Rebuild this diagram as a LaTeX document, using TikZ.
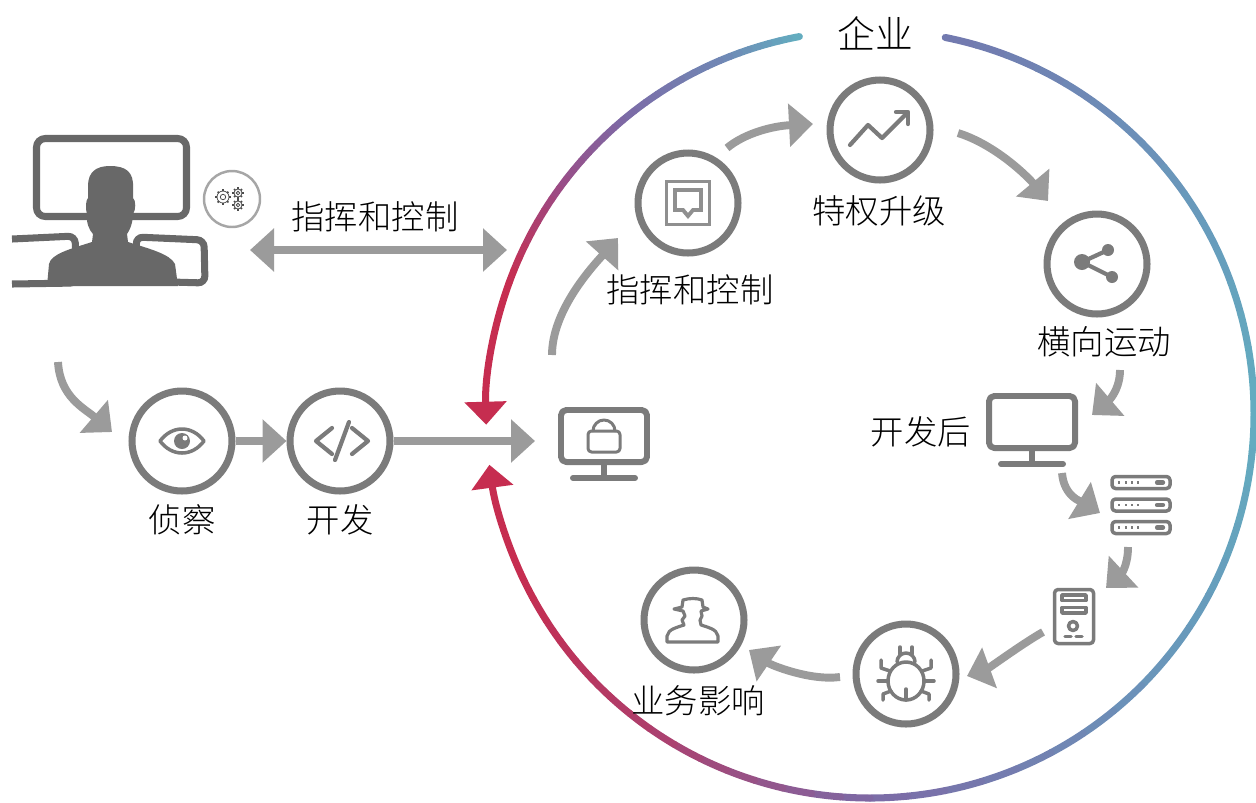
\documentclass[tikz,border=0pt]{standalone}
\usepackage{fontspec}
\IfFontExistsTF{Noto Sans CJK SC Light}
  {\newfontfamily\cjk{Noto Sans CJK SC Light}}
  {\newfontfamily\cjk{Noto Sans CJK SC}}
\usetikzlibrary{arrows.meta}
\definecolor{arrowgrey}{HTML}{9B9B9B}
\definecolor{icongrey}{HTML}{7B7B7B}
\definecolor{mangrey}{HTML}{686868}
\definecolor{ringteal}{HTML}{62AEC0}
\definecolor{ringblue}{HTML}{6A94BA}
\definecolor{ringsky}{HTML}{7088B5}
\definecolor{ringindigo}{HTML}{7378AE}
\definecolor{ringviolet}{HTML}{7C6AA6}
\definecolor{ringplum}{HTML}{9A4C86}
\definecolor{ringrose}{HTML}{AE3E6C}
\definecolor{ringcrim}{HTML}{C62D50}

\tikzset{
  stage/.style={circle, draw=icongrey, line width=4pt, minimum size=2cm, inner sep=0pt},
  device/.style={inner sep=0pt, minimum width=1.8cm, minimum height=1.2cm},
  flow/.style={draw=arrowgrey, line width=4.5pt, -{Triangle[length=0.48cm,width=0.84cm]}},
  caption/.style={font=\cjk\fontsize{19}{22}\selectfont, inner sep=0pt},
  icon/.style={draw=icongrey, line width=2pt, line cap=round, line join=round},
  ring/.style={line width=4pt, line cap=round},
  cogline/.style={draw=black!70, line width=0.45pt},
}

% one stretch of the enterprise ring, fading from #3 to #4
\newcommand\ringpart[4]{%
  \foreach \i in {1,...,8}{%
    \pgfmathsetmacro\ta{#1+(#2-#1)*(\i-1)/8}%
    \pgfmathsetmacro\tb{#1+(#2-#1)*\i/8}%
    \pgfmathsetmacro\mx{100-100*(\i-0.5)/8}%
    \draw[ring, draw=#3!\mx!#4] ([shift={(ctr)}]\ta:384)
      arc[start angle=\ta, end angle=\tb, radius=384];
  }}

% small cog: centre x, centre y, radius
\newcommand\cog[3]{%
  \draw[cogline] (#1,#2) circle[radius=#3];
  \draw[cogline] (#1,#2) circle[radius=#3*0.45];
  \foreach \t in {0,45,...,315}
    \draw[cogline, line width=1pt] (#1,#2) ++(\t:#3) -- ++(\t:1.6);
}

% desktop screen centred on the origin
\newcommand\screen{%
  \draw[icon, line width=3.4pt, rounded corners=3pt] (-43,-26) rectangle (43,26);
  \draw[icon, line width=3.4pt] (0,27) -- (0,41);
  \draw[icon, line width=3.4pt] (-31,42) -- (31,42);
}

\begin{document}
\begin{tikzpicture}[x=0.02cm, y=-0.02cm]
  \useasboundingbox (0,0) rectangle (1256,802);
  \coordinate (ctr) at (870,414);
  \coordinate (att) at (110,212);

  % Attacker at his screens
  \draw[mangrey, line width=4pt, rounded corners=5pt] (36.5,138.5) rectangle (186.5,216.5);
  \draw[mangrey, line width=4pt, rounded corners=4pt] (12,239) -- (75,236) -- (77,283) -- (12,284);
  \draw[mangrey, line width=4pt, rounded corners=4pt] (136,237) -- (204,240) -- (205,283) -- (138,281) -- cycle;
  \fill[mangrey] (47,286) -- (49,264) .. controls (51,254) and (70,249) .. (92,242)
    -- (93,234) .. controls (89,230) and (86,222) .. (87,214)
    .. controls (85,208) and (86,200) .. (88,198) -- (88,186)
    .. controls (88,172) and (96,166) .. (110,166)
    .. controls (126,166) and (134,172) .. (133,188) -- (133,198)
    .. controls (136,200) and (136,210) .. (133,214)
    .. controls (133,222) and (130,230) .. (127,234) -- (128,242)
    .. controls (150,249) and (170,254) .. (175,264) -- (178,286) -- cycle;

  % Tooling badge
  \node[circle, draw=black!35, line width=1.4pt, minimum size=1.12cm, inner sep=0pt] (gear) at (232,199) {};
  \begin{scope}[shift={(gear.center)}]
    \cog{-9}{-2}{6}
    \cog{6}{-6}{4}
    \cog{6}{6}{4}
  \end{scope}

  % Kill chain outside the enterprise
  \node[stage] (recon) at (182,441) {};
  \node[stage] (expl) at (340,441) {};
  \node[caption] (t-recon) at (182,520) {侦察};
  \node[caption] (t-expl) at (340,520) {开发};
  \begin{scope}[shift={(recon.center)}]
    \draw[icon] (-22,0) .. controls (-10,-16) and (10,-16) .. (22,0)
      .. controls (10,16) and (-10,16) .. (-22,0) -- cycle;
    \fill[icongrey] (0,0) circle[radius=8];
    \fill[white] (3,-3) circle[radius=2.5];
  \end{scope}
  \begin{scope}[shift={(expl.center)}]
    \draw[icon, line width=2.4pt] (-8,-13) -- (-24,0) -- (-8,13);
    \draw[icon, line width=2.4pt] (12,-13) -- (28,0) -- (12,13);
    \draw[icon, line width=2.4pt] (9,-19) -- (-5,19);
  \end{scope}

  % Enterprise ring
  \foreach \a/\b/\ca/\cb in {-78.7/-40/ringindigo/ringblue, -40/0/ringblue/ringteal,
      0/45/ringteal/ringblue, 45/90/ringblue/ringviolet, 90/125/ringviolet/ringrose,
      125/155/ringrose/ringcrim}
    \ringpart{\a}{\b}{\ca}{\cb};
  \foreach \a/\b/\ca/\cb in {259.4/247/ringteal/ringsky, 247/230/ringsky/ringviolet,
      230/216/ringviolet/ringplum, 216/200/ringplum/ringcrim}
    \ringpart{\a}{\b}{\ca}{\cb};
  \draw[ring, draw=ringcrim, -{Triangle[length=0.46cm,width=0.82cm]}]
    ([shift={(ctr)}]155:384) arc[start angle=155, end angle=172.4, radius=384];
  \draw[ring, draw=ringcrim, -{Triangle[length=0.46cm,width=0.82cm]}]
    ([shift={(ctr)}]200:384) arc[start angle=200, end angle=178.4, radius=384];
  \node[caption, font=\cjk\fontsize{21.5}{24}\selectfont] (t-ent) at (875,33) {企业};

  % Stages inside
  \node[device] (host) at (604,436) {};
  \node[stage] (c2) at (688,203) {};
  \node[stage] (priv) at (880,130) {};
  \node[stage] (lat) at (1097,264) {};
  \node[device] (post) at (1032,422) {};
  \node[device, minimum width=1.3cm] (rack) at (1141,505) {};
  \node[device, minimum width=0.9cm] (tower) at (1074,617) {};
  \node[stage] (bug) at (906,674) {};
  \node[stage] (impact) at (694,620) {};

  \node[caption] (t-c2) at (690,290) {指挥和控制};
  \node[caption] (t-priv) at (879,211) {特权升级};
  \node[caption] (t-lat) at (1104,342) {横向运动};
  \node[caption] (t-post) at (921,432) {开发后};
  \node[caption] (t-impact) at (698,701) {业务影响};
  \node[caption] (t-link) at (375,217) {指挥和控制};

  % Icons
  \begin{scope}[shift={(host.center)}]
    \screen
    \draw[icon, line width=1.7pt, rounded corners=2pt] (-16,-5) rectangle (16,16);
    \draw[icon, line width=1.7pt] (-11,-5) arc[start angle=180, end angle=360, radius=11];
  \end{scope}
  \begin{scope}[shift={(c2.center)}]
    \draw[icon, draw=icongrey!85, line width=2.2pt, line cap=butt, line join=miter]
      (-21.5,-21.5) rectangle (21.5,21.5);
    \draw[icon, draw=icongrey!85, line width=2.2pt, line join=miter]
      (-13,7) -- (-13,-13) -- (13,-13) -- (13,7) -- (5,7) -- (0,13) -- (-5,7) -- cycle;
  \end{scope}
  \begin{scope}[shift={(priv.center)}]
    \draw[icon, line width=2.4pt] (-30,15) -- (-12,-5) -- (2,8) -- (27,-17);
    \draw[icon, line width=2.4pt] (16,-18) -- (28,-18) -- (28,-6);
  \end{scope}
  \begin{scope}[shift={(lat.center)}]
    \draw[icon, line width=2.4pt] (11,-14) -- (-15,-2) -- (15,13);
    \fill[icongrey] (-15,-2) circle[radius=8] (11,-14) circle[radius=6] (15,13) circle[radius=6];
  \end{scope}
  \begin{scope}[shift={(post.center)}]
    \screen
  \end{scope}
  \begin{scope}[shift={(rack.center)}]
    \foreach \y in {-22.5,0,22.5} {
      \draw[icon, rounded corners=2pt] (-29,\y-6) rectangle (29,\y+6);
      \foreach \x in {-22,-15,-9,-3}
        \fill[icongrey] (\x-1.2,\y-1.2) rectangle (\x+1.2,\y+1.2);
      \draw[icon, line width=2.4pt] (16,\y) -- (22,\y);
    }
  \end{scope}
  \begin{scope}[shift={(tower.center)}]
    \draw[icon, rounded corners=2pt] (-19.5,-27.5) rectangle (19.5,26.5);
    \draw[icon] (-12,-22) rectangle (12,-16.5);
    \draw[icon] (-12,-9.5) rectangle (12,-4);
    \draw[icon] (-1,9) circle[radius=4.5];
    \draw[icon] (-9,19.5) -- (-3,19.5) (2,19.5) -- (8,19.5);
  \end{scope}
  \begin{scope}[shift={(bug.center)}]
    \draw[icon] (0,7) ellipse[x radius=18, y radius=19];
    \draw[icon] (-9,-12) arc[start angle=180, end angle=360, radius=9];
    \draw[icon] (-6,-20) -- (-6,-27) (6,-20) -- (6,-27);
    \draw[icon] (0,15) -- (0,26);
    \foreach \s in {-1,1} {
      \draw[icon] (\s*16,-3) -- (\s*25,-6) -- (\s*25,-14);
      \draw[icon] (\s*18,7) -- (\s*28,7);
      \draw[icon] (\s*15,17) -- (\s*23,20) -- (\s*23,26);
    }
  \end{scope}
  \begin{scope}[shift={(impact.center)}]
    \draw[icon, line width=1.8pt] (-27,22) -- (-27,16) .. controls (-26,9) and (-16,7) .. (-10,5)
      -- (-12,0) -- (-9,-4) -- (-11,-9) -- (-20,-11) -- (-12,-13) -- (-11,-20)
      .. controls (-5,-22) and (3,-22) .. (8,-20) -- (9,-13) -- (14,-11) -- (7,-9)
      -- (8,-4) -- (6,0) -- (7,5) .. controls (13,7) and (23,9) .. (24,16) -- (24,22) -- cycle;
  \end{scope}

  % Connectors
  \draw[flow, {Triangle[length=0.48cm,width=0.84cm]}-{Triangle[length=0.48cm,width=0.84cm]}]
    ([shift={(140,38)}]att) -- ([shift={(-363,-164)}]ctr);
  \draw[flow] ([shift={(-52,150)}]att) .. controls +(2,35) and +(-28,-24) .. ([shift={(-70,-9)}]recon.center);
  \draw[flow] (recon) -- (expl);
  \draw[flow] (expl) -- ([shift={(-69,5)}]host.center);
  \draw[flow] ([shift={(-52,-81)}]host.center) .. controls +(0,-45) and +(-25,28) .. ([shift={(-70,35)}]c2.center);
  \draw[flow] ([shift={(39,-55)}]c2.center) .. controls +(18,-15) and +(-40,2) .. ([shift={(-67,-6)}]priv.center);
  \draw[flow] ([shift={(78,3)}]priv.center) .. controls +(38,12) and +(-20,-24) .. ([shift={(-49,-63)}]lat.center);
  \draw[flow] ([shift={(23,106)}]lat.center) .. controls +(0,22) and +(14,-12) .. ([shift={(60,-7)}]post.center);
  \draw[flow] ([shift={(30,51)}]post.center) .. controls +(2,24) and +(-18,-11) .. ([shift={(-41,8)}]rack.center);
  \draw[flow] ([shift={(-13,42)}]rack.center) .. controls +(0,20) and +(14,-13) .. ([shift={(32,-29)}]tower.center);
  \draw[flow] ([shift={(-31,15)}]tower.center) .. controls +(-18,10) and +(22,-8) .. ([shift={(61,2)}]bug.center);
  \draw[flow] ([shift={(-66,3)}]bug.center) .. controls +(-30,4) and +(22,15) .. ([shift={(55,30)}]impact.center);
\end{tikzpicture}
\end{document}
